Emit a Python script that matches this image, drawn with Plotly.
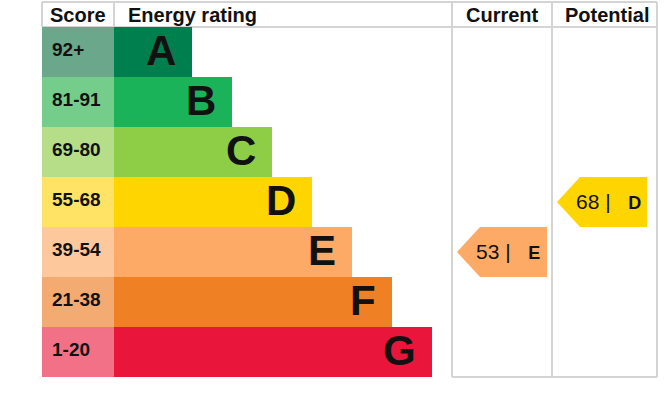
import plotly.graph_objects as go

# ---- data ----
bands = ["A", "B", "C", "D", "E", "F", "G"]
score_ranges = ["92+", "81-91", "69-80", "55-68", "39-54", "21-38", "1-20"]
band_min = [92, 81, 69, 55, 39, 21, 1]
bar_colors = ["#007f4e", "#1bb35a", "#8dce46", "#ffd500", "#fcaa65", "#ef8023", "#e9153b"]
score_colors = ["#6aa78b", "#74cd8b", "#b6dd87", "#ffe365", "#fec89d", "#f4ab72", "#f27187"]
headers = ["Score", "Energy rating", "Current", "Potential"]
current_value = 53
potential_value = 68

# ---- layout constants (pixel-like units) ----
SCORE_W = 72
BAR_MIN = 78
BAR_STEP = 40
COL_CUR = 410
COL_POT = 510
COL_END = 615
GRID = "#d4d4d4"
FONT = "Liberation Sans, Arial, sans-serif"


def band_index(v):
    for i, m in enumerate(band_min):
        if v >= m:
            return i
    return len(band_min) - 1


rows = list(range(len(bands)))
lengths = [BAR_MIN + BAR_STEP * i for i in rows]

fig = go.Figure()

fig.add_trace(go.Bar(orientation="h", y=rows, x=[SCORE_W] * len(rows), base=0, width=1,
                     marker=dict(color=score_colors, line=dict(width=0)), hoverinfo="skip"))
fig.add_trace(go.Bar(orientation="h", y=rows, x=lengths, base=SCORE_W, width=1,
                     marker=dict(color=bar_colors, line=dict(width=0)), hoverinfo="skip"))

annotations = []
for i in rows:
    annotations.append(dict(x=8, y=i - 0.05, text="<b>%s</b>" % score_ranges[i], xanchor="left",
                            yanchor="middle", showarrow=False,
                            font=dict(family=FONT, size=19, color="#111")))
    annotations.append(dict(x=SCORE_W + lengths[i] - 14, y=i - 0.03, text="<b>%s</b>" % bands[i],
                            xanchor="right", yanchor="middle", showarrow=False,
                            font=dict(family=FONT, size=42, color="#111")))

# headers
hdr_y = -0.75
hfont = dict(family=FONT, size=20, color="#111")
annotations.append(dict(x=SCORE_W / 2, y=hdr_y, text="<b>%s</b>" % headers[0], xanchor="center",
                        yanchor="middle", showarrow=False, font=hfont))
annotations.append(dict(x=SCORE_W + 12, y=hdr_y, text="<b>%s</b>" % headers[1], xanchor="left",
                        yanchor="middle", showarrow=False, font=hfont))
annotations.append(dict(x=(COL_CUR + COL_POT) / 2, y=hdr_y, text="<b>%s</b>" % headers[2], xanchor="center",
                        yanchor="middle", showarrow=False, font=hfont))
annotations.append(dict(x=(COL_POT + COL_END) / 2 + 2, y=hdr_y, text="<b>%s</b>" % headers[3], xanchor="center",
                        yanchor="middle", showarrow=False, font=hfont))


def add_arrow(col_x, value):
    i = band_index(value)
    tip = col_x + 5
    body = col_x + 28
    right = col_x + 95
    xs = [tip, body, right, right, body, tip]
    ys = [i, i - 0.5, i - 0.5, i + 0.5, i + 0.5, i]
    fig.add_trace(go.Scatter(x=xs, y=ys, fill="toself", fillcolor=bar_colors[i], mode="lines",
                             line=dict(width=0, color=bar_colors[i]), hoverinfo="skip"))
    annotations.append(dict(x=col_x + 22, y=i - 0.02, xanchor="left", yanchor="middle", showarrow=False,
                            text="%d |&nbsp;&nbsp;&nbsp;<span style='font-size:18px'><b>%s</b></span>" % (value, bands[i]),
                            font=dict(family=FONT, size=21, color="#111")))


add_arrow(COL_CUR, current_value)
add_arrow(COL_POT, potential_value)

shapes = []
def line(x0, y0, x1, y1):
    shapes.append(dict(type="line", xref="x", yref="y", x0=x0, y0=y0, x1=x1, y1=y1,
                       line=dict(color=GRID, width=2), layer="below"))

n = len(bands)
line(0, -1, COL_END, -1)
line(0, -0.5, COL_END, -0.5)
line(0, -1, 0, -0.5)
line(SCORE_W, -1, SCORE_W, -0.5)
line(COL_CUR, -1, COL_CUR, n - 0.5)
line(COL_POT, -1, COL_POT, n - 0.5)
line(COL_END, -1, COL_END, n - 0.5)
line(COL_CUR, n - 0.5, COL_END, n - 0.5)

fig.update_layout(
    width=664, height=394,
    margin=dict(l=40, r=5, t=0, b=14),
    paper_bgcolor="white", plot_bgcolor="white",
    showlegend=False, barmode="overlay", bargap=0,
    xaxis=dict(range=[-2, 617], visible=False, fixedrange=True),
    yaxis=dict(range=[n - 0.5 + 0.06, -1.04], visible=False, fixedrange=True),
    shapes=shapes, annotations=annotations,
)

fig.write_html("out.html", config={"displayModeBar": False},
               post_script="document.body.style.margin='0px';document.body.style.overflow='hidden';")
